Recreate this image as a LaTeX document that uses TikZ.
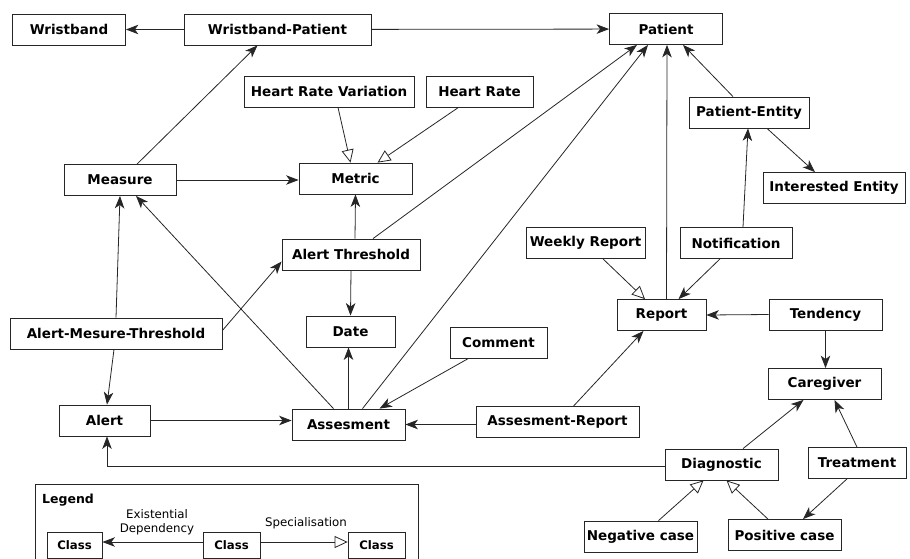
\documentclass[tikz,border=0pt]{standalone}
\usepackage{fontspec}
\setmainfont{DejaVu Sans}
\usetikzlibrary{arrows.meta}
\begin{document}
\begin{tikzpicture}[x=1pt, y=-1pt,
    cls/.style={rectangle, draw=black!85, line width=0.8pt, minimum width=113pt, minimum height=31pt, inner sep=2pt, font=\fontsize{13.5}{16}\selectfont\bfseries},
    lcls/.style={cls, minimum width=56pt, minimum height=26pt, font=\fontsize{11.7}{14}\selectfont\bfseries},
    dep/.style={draw=black!85, line width=0.8pt, -{Stealth[length=12.5pt, width=9.5pt, inset=3.5pt]}},
    spec/.style={draw=black!85, line width=0.8pt, -{Triangle[open, length=13pt, width=12pt]}},
    lbl/.style={font=\fontsize{11.8}{14}\selectfont, align=center, inner sep=1pt}
]
    \useasboundingbox (0,0) rectangle (910,558);
    \clip (0,0) rectangle (910,558);

    % Classes
    \node[cls] (wristband) at (69,29.5) {Wristband};
    \node[cls, minimum width=187pt] (wp) at (277.5,29.5) {Wristband-Patient};
    \node[cls] (patient) at (666,29) {Patient};
    \node[cls, minimum width=170pt] (hrv) at (329,91.5) {Heart Rate Variation};
    \node[cls, minimum width=107pt] (hr) at (479.5,91.5) {Heart Rate};
    \node[cls, minimum width=120pt] (pe) at (749,112.5) {Patient-Entity};
    \node[cls, minimum width=142pt] (ie) at (834,188) {Interested Entity};
    \node[cls, minimum width=112pt] (measure) at (120,180) {Measure};
    \node[cls] (metric) at (355.5,178.5) {Metric};
    \node[cls, minimum width=138pt] (athr) at (351,254.5) {Alert Threshold};
    \node[cls, minimum width=119pt] (wr) at (585.5,243) {Weekly Report};
    \node[cls, minimum width=112pt] (notif) at (736,243) {Notification};
    \node[cls, minimum width=89pt] (report) at (661.5,315) {Report};
    \node[cls] (tend) at (825.5,314.5) {Tendency};
    \node[cls, minimum width=212pt] (amt) at (116,333.5) {Alert-Mesure-Threshold};
    \node[cls, minimum width=89pt] (date) at (350.5,331.5) {Date};
    \node[cls, minimum width=97pt] (comment) at (498.5,342.5) {Comment};
    \node[cls] (care) at (824.5,384) {Caregiver};
    \node[cls, minimum width=91pt] (alert) at (104.5,420.5) {Alert};
    \node[cls] (assess) at (348.5,424.5) {Assesment};
    \node[cls, minimum width=163pt] (ar) at (557.5,422) {Assesment-Report};
    \node[cls] (diag) at (721.5,464.5) {Diagnostic};
    \node[cls, minimum width=98pt] (treat) at (857,463) {Treatment};
    \node[cls] (nc) at (640.5,536.5) {Negative case};
    \node[cls] (pc) at (784.5,535) {Positive case};

    % Existential dependencies
    \draw[dep] (wp) -- (wristband);
    \draw[dep] (wp) -- (patient);
    \draw[dep] ([xshift=17pt]measure.north) -- ([xshift=-20pt]wp.south);
    \draw[dep] (measure.east) -- (measure.east -| metric.west);
    \draw[dep] ([xshift=4pt]athr.north) -- (metric.south);
    \draw[dep] ([xshift=22pt]athr.north) -- ([xshift=-29pt]patient.south);
    \draw[dep] ([xshift=14pt]assess.north) -- ([xshift=-18pt]patient.south);
    \draw[dep] ([xshift=5pt]report.north) -- ([xshift=1pt]patient.south);
    \draw[dep] ([xshift=-16pt]pe.north) -- ([xshift=17pt]patient.south);
    \draw[dep] ([xshift=18pt]pe.south) -- ([xshift=-19pt]ie.north);
    \draw[dep] ([xshift=7pt]notif.north) -- ([xshift=-1pt]pe.south);
    \draw[dep] (athr.south) -- (date.north);
    \draw[dep] (amt.north) -- (measure.south);
    \draw[dep] ([yshift=3pt]amt.east) -- ([yshift=-7pt]athr.west);
    \draw[dep] ([xshift=-2pt]amt.south) -- ([xshift=2.5pt]alert.north);
    \draw[dep] ([xshift=-15pt]assess.north) -- ([xshift=16pt]measure.south);
    \draw[dep] (alert.east) -- (alert.east -| assess.west);
    \draw[dep] (assess.north) -- (assess.north |- date.south);
    \draw[dep] ([xshift=-30pt]comment.south) -- ([xshift=31pt]assess.north);
    \draw[dep] (assess.east -| ar.west) -- (assess.east);
    \draw[dep] ([xshift=16pt]ar.north) -- ([xshift=-18pt]report.south);
    \draw[dep] ([xshift=-16pt]notif.south) -- ([xshift=17pt]report.north);
    \draw[dep] (tend.west) -- (report.east);
    \draw[dep] (tend.south) -- (tend.south |- care.north);
    \draw[dep] ([xshift=21.5pt]diag.north) -- ([xshift=-21pt]care.south);
    \draw[dep] (treat.north) -- ([xshift=10pt]care.south);
    \draw[dep] ([yshift=-2pt]diag.west) -| ([xshift=2.5pt]alert.south);
    \draw[dep] ([xshift=-10pt]treat.south) -- ([xshift=18.5pt]pc.north);

    % Specialisations
    \draw[spec] ([xshift=9pt]hrv.south) -- ([xshift=-5pt]metric.north);
    \draw[spec] ([xshift=-21pt]hr.south) -- ([xshift=22pt]metric.north);
    \draw[spec] ([xshift=17.5pt]wr.south) -- ([xshift=-16.5pt]report.north);
    \draw[spec] ([xshift=18pt]nc.north) -- ([xshift=-18pt]diag.south);
    \draw[spec] ([xshift=-16.5pt]pc.north) -- ([xshift=5pt]diag.south);

    % Legend
    \draw[draw=black!85, line width=0.8pt] (35,484) rectangle (418,580);
    \node[anchor=west, inner sep=0pt, font=\fontsize{12.5}{14}\selectfont\bfseries] (legend) at (42,500) {Legend};
    \node[lcls, minimum width=55pt] (lc1) at (74.5,545) {Class};
    \node[lcls, minimum width=57pt] (lc2) at (231.5,545) {Class};
    \node[lcls, minimum width=57pt] (lc3) at (376.5,545) {Class};
    \draw[dep] ([yshift=3pt]lc2.west) -- ([yshift=3pt]lc1.east);
    \draw[spec] ([yshift=3pt]lc2.east) -- ([yshift=3pt]lc3.west);
    \node[lbl] (deplbl) at (157,522) {Existential\\Dependency};
    \node[lbl] (speclbl) at (306,523) {Specialisation};
\end{tikzpicture}
\end{document}
